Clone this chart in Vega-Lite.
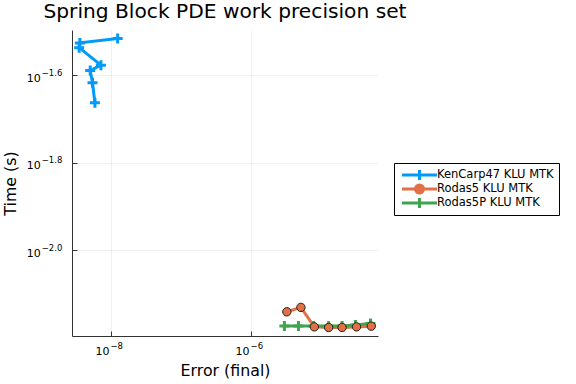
{
  "$schema": "https://vega.github.io/schema/vega-lite/v6.json",
  "width": 306,
  "height": 306,
  "autosize": {"type": "none"},
  "padding": {"left": 72, "top": 30, "right": 198, "bottom": 48},
  "background": "white",
  "title": {"text": "Spring Block PDE work precision set", "fontSize": 20.2, "font": "DejaVu Sans", "fontWeight": "normal", "anchor": "middle", "offset": 5, "color": "black"},
  "config": {"view": {"stroke": null}, "font": "DejaVu Sans"},
  "layer": [
    {
      "data": {"values": [
        {"series": "KenCarp47 KLU MTK", "i": 0, "error": 1.245e-8, "time": 0.03048},
        {"series": "KenCarp47 KLU MTK", "i": 1, "error": 3.589e-9, "time": 0.02979},
        {"series": "KenCarp47 KLU MTK", "i": 2, "error": 3.508e-9, "time": 0.02904},
        {"series": "KenCarp47 KLU MTK", "i": 3, "error": 7.178e-9, "time": 0.02649},
        {"series": "KenCarp47 KLU MTK", "i": 4, "error": 5.047e-9, "time": 0.02576},
        {"series": "KenCarp47 KLU MTK", "i": 5, "error": 5.445e-9, "time": 0.02415},
        {"series": "KenCarp47 KLU MTK", "i": 6, "error": 5.888e-9, "time": 0.02173},
        {"series": "Rodas5 KLU MTK", "i": 0, "error": 3.251e-6, "time": 0.007235},
        {"series": "Rodas5 KLU MTK", "i": 1, "error": 5.164e-6, "time": 0.007405},
        {"series": "Rodas5 KLU MTK", "i": 2, "error": 8.017e-6, "time": 0.006683},
        {"series": "Rodas5 KLU MTK", "i": 3, "error": 1.285e-5, "time": 0.006662},
        {"series": "Rodas5 KLU MTK", "i": 4, "error": 2.000e-5, "time": 0.006662},
        {"series": "Rodas5 KLU MTK", "i": 5, "error": 3.214e-5, "time": 0.006683},
        {"series": "Rodas5 KLU MTK", "i": 6, "error": 5.224e-5, "time": 0.006708},
        {"series": "Rodas5P KLU MTK", "i": 0, "error": 2.999e-6, "time": 0.006718},
        {"series": "Rodas5P KLU MTK", "i": 1, "error": 4.764e-6, "time": 0.006718},
        {"series": "Rodas5P KLU MTK", "i": 2, "error": 7.834e-6, "time": 0.006718},
        {"series": "Rodas5P KLU MTK", "i": 3, "error": 1.285e-5, "time": 0.006718},
        {"series": "Rodas5P KLU MTK", "i": 4, "error": 2.000e-5, "time": 0.006718},
        {"series": "Rodas5P KLU MTK", "i": 5, "error": 3.105e-5, "time": 0.006754},
        {"series": "Rodas5P KLU MTK", "i": 6, "error": 5.093e-5, "time": 0.006804}
      ]},
      "encoding": {
        "x": {"field": "error", "type": "quantitative",
          "scale": {"type": "log", "domain": [2.773e-9, 6.516e-5], "nice": false},
          "axis": {"title": "Error (final)", "titleFontSize": 15.8, "titleFontWeight": "normal", "titleColor": "black", "titlePadding": 27,
            "values": [1e-8, 1e-6], "labels": false,
            "grid": true, "gridColor": "#000000", "gridOpacity": 0.1, "gridWidth": 0.6,
            "domainColor": "#333333", "domainWidth": 1, "tickColor": "#333333", "tickSize": -5}},
        "y": {"field": "time", "type": "quantitative",
          "scale": {"type": "log", "domain": [0.00637, 0.03188], "nice": false},
          "axis": {"title": "Time (s)", "titleFontSize": 15.8, "titleFontWeight": "normal", "titleColor": "black", "titlePadding": 53,
            "values": [0.025119, 0.015849, 0.01], "labels": false,
            "grid": true, "gridColor": "#000000", "gridOpacity": 0.1, "gridWidth": 0.6,
            "domainColor": "#333333", "domainWidth": 1, "tickColor": "#333333", "tickSize": -5}},
        "color": {"field": "series", "type": "nominal",
          "scale": {"domain": ["KenCarp47 KLU MTK", "Rodas5 KLU MTK", "Rodas5P KLU MTK"], "range": ["#009AFA", "#E26F46", "#3EA44E"]},
          "legend": {"orient": "none", "legendX": 322, "legendY": 133, "title": null,
            "strokeColor": "black", "fillColor": "white", "padding": 5,
            "labelFontSize": 11.5, "labelColor": "black", "labelFont": "DejaVu Sans",
            "symbolSize": 100, "symbolOffset": 14, "labelOffset": 11, "rowPadding": 0, "clipHeight": 14,
            "encode": {"symbols": {"update": {
              "shape": {"signal": "datum.value == 'Rodas5 KLU MTK' ? 'M-3.5,0H-0.8M0.8,0H3.5M0.8,0A0.8,0.8,0,1,1,-0.8,0A0.8,0.8,0,1,1,0.8,0' : 'M-3.5,0H3.5M0,-1V1'"},
              "stroke": {"signal": "scale('color', datum.value)"},
              "fill": {"signal": "datum.value == 'Rodas5 KLU MTK' ? '#E26F46' : 'transparent'"},
              "strokeWidth": {"value": 3},
              "opacity": {"value": 1}
            }}}}}
      },
      "layer": [
        {"mark": {"type": "line", "strokeWidth": 3},
         "encoding": {"order": {"field": "i", "type": "quantitative"}}},
        {"transform": [{"filter": "datum.series != 'Rodas5 KLU MTK'"}],
         "mark": {"type": "point", "shape": "M-1,0H1M0,-1V1", "filled": false, "strokeWidth": 3, "size": 100, "opacity": 1}},
        {"transform": [{"filter": "datum.series == 'Rodas5 KLU MTK'"}],
         "mark": {"type": "point", "shape": "circle", "filled": true, "stroke": "#222222", "strokeWidth": 1, "size": 70, "opacity": 1}}
      ]
    },
    {
      "data": {"values": [
        {"tick": 1e-8, "low": 0.00637, "base": "10", "exp": "−8"},
        {"tick": 1e-6, "low": 0.00637, "base": "10", "exp": "−6"}
      ]},
      "layer": [
        {"mark": {"type": "text", "align": "right", "baseline": "alphabetic", "fontSize": 11, "dx": -1.5, "dy": 19, "color": "black"},
         "encoding": {"x": {"field": "tick", "type": "quantitative"}, "y": {"field": "low", "type": "quantitative"}, "text": {"field": "base", "type": "nominal"}}},
        {"mark": {"type": "text", "align": "left", "baseline": "alphabetic", "fontSize": 8.5, "dx": -0.5, "dy": 12.7, "color": "black"},
         "encoding": {"x": {"field": "tick", "type": "quantitative"}, "y": {"field": "low", "type": "quantitative"}, "text": {"field": "exp", "type": "nominal"}}}
      ]
    },
    {
      "data": {"values": [
        {"tick": 0.025119, "left": 2.773e-9, "base": "10", "exp": "−1.6"},
        {"tick": 0.015849, "left": 2.773e-9, "base": "10", "exp": "−1.8"},
        {"tick": 0.01, "left": 2.773e-9, "base": "10", "exp": "−2.0"}
      ]},
      "layer": [
        {"mark": {"type": "text", "align": "right", "baseline": "alphabetic", "fontSize": 11, "dx": -31.3, "dy": 6.5, "color": "black"},
         "encoding": {"y": {"field": "tick", "type": "quantitative"}, "x": {"field": "left", "type": "quantitative"}, "text": {"field": "base", "type": "nominal"}}},
        {"mark": {"type": "text", "align": "left", "baseline": "alphabetic", "fontSize": 8.5, "dx": -30.3, "dy": 0.5, "color": "black"},
         "encoding": {"y": {"field": "tick", "type": "quantitative"}, "x": {"field": "left", "type": "quantitative"}, "text": {"field": "exp", "type": "nominal"}}}
      ]
    }
  ]
}
